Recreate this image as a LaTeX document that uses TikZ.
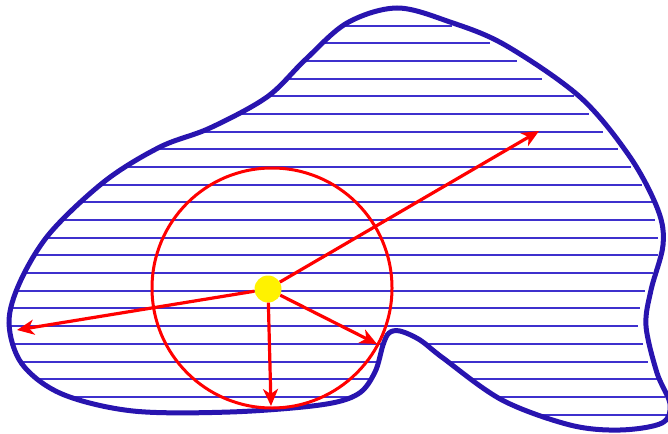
\documentclass[tikz,border=0pt]{standalone}
\usetikzlibrary{arrows.meta}
\definecolor{outl}{RGB}{40,20,175}
\definecolor{hatchc}{RGB}{62,48,205}
\newcommand\blobpath{plot[smooth cycle, tension=0.55] coordinates {
(210,128) (267,97) (305,60) (347,23) (397,8) (450,22) (505,45) (580,97) (630,157) (658,210) (663,245) (651,290) (646,326) (657,373) (670,404) (662,423) (620,430) (570,425) (502,400) (443,358) (420,340) (400,331) (389,333) (383,345) (375,372) (358,394) (320,405) (230,412) (133,411) (62,394) (22,364) (9,323) (20,282) (50,233) (105,181) (160,147)}}
\begin{document}
\begin{tikzpicture}[x=1pt,y=-1pt,
  hatchline/.style={draw=hatchc, line width=2pt},
  outline/.style={draw=outl, line width=5pt},
  ring/.style={draw=red, line width=3pt, circle, minimum size=240pt, inner sep=0pt},
  sun/.style={fill=yellow, circle, minimum size=27pt, inner sep=0pt},
  ray/.style={draw=red, line width=3.2pt, -{Stealth[length=17pt,width=15pt,inset=5pt]}}]
\useasboundingbox (0,0) rectangle (668,433);
\begin{scope}
  \clip \blobpath;
  \foreach \k/\xl/\xr in {0/0/452,1/0/490,2/0/517,3/0/542,4/0/574,5/0/589,6/0/603,7/0/618,8/0/631,9/0/642,10/0/653,11/0/655,12/0/658,13/0/658,14/0/653,15/0/645,16/0/640,17/0/638,18/0/643,19/0/648,20/0/657,21/0/665,22/500/670}
    \draw[hatchline] (\xl,{25.6+17.68*\k}) -- (\xr,{25.6+17.68*\k});
\end{scope}
\draw[outline] \blobpath;
\node[ring] (circ) at (272,288) {};
\node[sun] (dot) at (268,289) {};
\coordinate (tipNE) at (539,131);
\coordinate (tipW) at (17,330);
\coordinate (tipS) at (271,406);
\coordinate (tipSE) at (377,344);
\draw[ray] (dot) -- (tipNE);
\draw[ray] (dot) -- (tipW);
\draw[ray] (dot) -- (tipS);
\draw[ray] (dot) -- (tipSE);
\end{tikzpicture}
\end{document}
